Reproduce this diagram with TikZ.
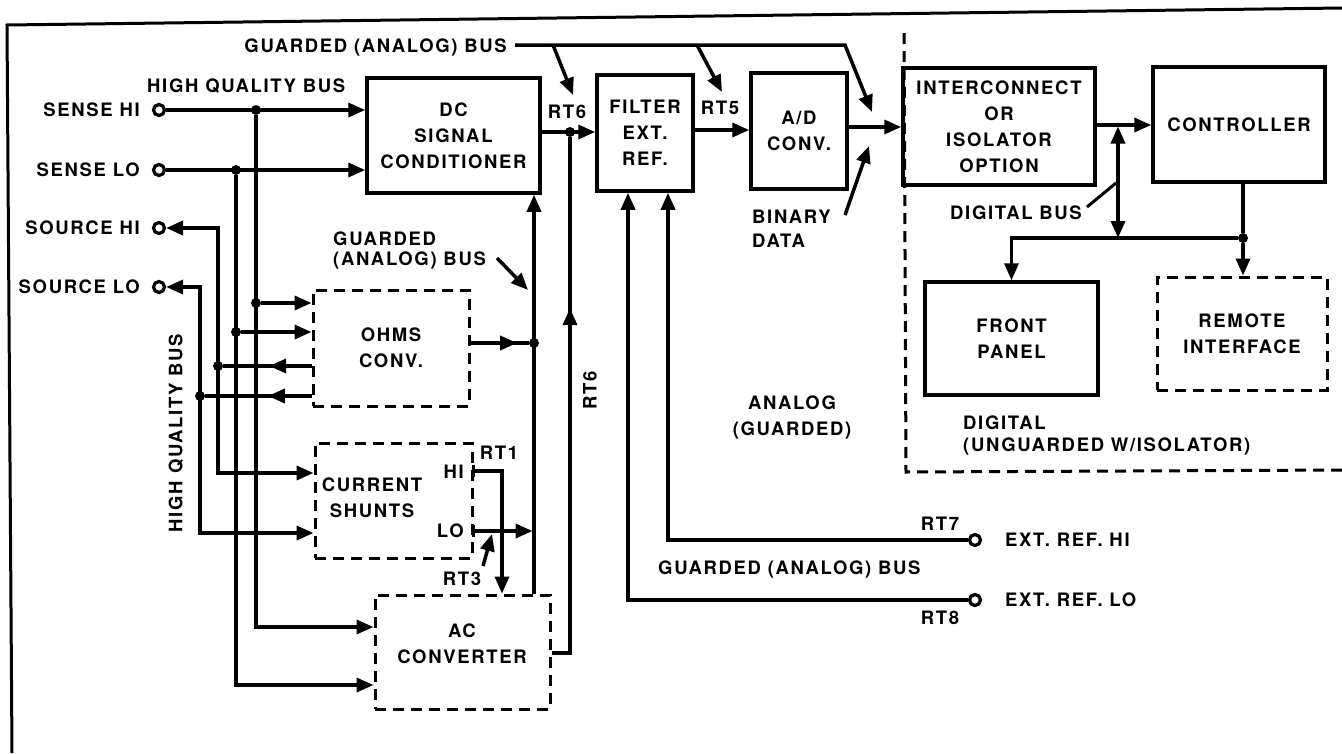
\documentclass[tikz,border=0pt]{standalone}
\usepackage{fontspec}
\setsansfont{TeX Gyre Heros}[LetterSpace=9]
\usetikzlibrary{arrows.meta,positioning,decorations.markings}

\newcommand{\labfont}{\sffamily\bfseries\fontsize{18.5}{26}\selectfont}

\tikzset{
  wire/.style={line width=3.5pt},
  arr/.style={wire, -{Triangle[length=17pt,width=14pt]}},
  dbl/.style={wire, {Triangle[length=17pt,width=14pt]}-{Triangle[length=17pt,width=14pt]}},
  midarr/.style={wire, postaction={decorate},
    decoration={markings, mark=at position #1 with {\arrow{Triangle[length=17pt,width=14pt]}}}},
  midarr/.default=0.5,
  blk/.style={draw, line width=3.5pt, inner sep=0pt, align=center, font=\labfont},
  dblk/.style={blk, line width=3pt, dash pattern=on 11pt off 7pt},
  dot/.style={circle, fill, inner sep=0pt, minimum size=10pt},
  term/.style={circle, draw, line width=3.2pt, fill=white, inner sep=0pt, minimum size=11pt},
  lbl/.style={font=\labfont, inner sep=0pt, align=center},
}

\begin{document}
\begin{tikzpicture}[x=1pt, y=-1pt]
\useasboundingbox (0,0) rectangle (1342,753);

% frame and digital area
\draw[line width=3pt] (12,753) -- (7,25) -- (1342,8);
\draw[line width=3pt, dash pattern=on 11pt off 7pt] (904,33) -- (906,472) -- (1342,470);

% input terminals
\node[term] (shi) at (159,110) {};
\node[term] (slo) at (159,170) {};
\node[term] (srhi) at (159,228) {};
\node[term] (srlo) at (159,287) {};
\node[lbl, left=12pt of shi] (lshi) {SENSE HI};
\node[lbl, left=12pt of slo] (lslo) {SENSE LO};
\node[lbl, left=12pt of srhi] (lsrhi) {SOURCE HI};
\node[lbl, left=12pt of srlo] (lsrlo) {SOURCE LO};

% blocks
\node[blk, minimum width=173pt, minimum height=115pt] (dc) at (453.5,135.5) {DC\\SIGNAL\\CONDITIONER};
\node[blk, minimum width=96pt, minimum height=116pt] (filt) at (645,133) {FILTER\\EXT.\\REF.};
\node[blk, minimum width=96pt, minimum height=116pt] (adc) at (799,131) {A/D\\CONV.};
\node[blk, minimum width=192pt, minimum height=117pt] (icon) at (999,126.5) {INTERCONNECT\\OR\\ISOLATOR\\OPTION};
\node[blk, minimum width=172pt, minimum height=115pt] (ctrl) at (1239,124.5) {CONTROLLER};
\node[blk, minimum width=173pt, minimum height=113pt] (fp) at (1011.5,338.5) {FRONT\\PANEL};
\node[dblk, minimum width=170pt, minimum height=113pt] (ri) at (1242,333.5) {REMOTE\\INTERFACE};
\node[dblk, minimum width=156pt, minimum height=116pt] (ohms) at (391,348) {OHMS\\CONV.};
\node[dblk, minimum width=157pt, minimum height=115pt] (shunt) at (393.5,500.5) {};
\node[lbl] (tshunt) at (372,498) {CURRENT\\SHUNTS};
\node[dblk, minimum width=175pt, minimum height=114pt] (ac) at (462.5,652) {};
\node[lbl] (tac) at (462,644) {AC\\CONVERTER};

% junctions
\node[dot] (dSH) at (256,110) {};
\node[dot] (dSL) at (236,170) {};
\node[dot] (dO1) at (256,303) {};
\node[dot] (dO2) at (236,332) {};
\node[dot] (dO3) at (218,366) {};
\node[dot] (dO4) at (200,396) {};
\node[dot] (dOG) at (534,343) {};
\node[dot] (dRT6) at (570,132) {};
\node[dot] (dCT) at (1243,238) {};

\coordinate (kSH) at (256,627);
\coordinate (kSL) at (236,685);
\coordinate (kRH) at (218,473);
\coordinate (kRL) at (200,533);

% high quality bus
\draw[arr] (shi) -- (dc.west |- shi);
\draw[arr] (slo) -- (dc.west |- slo);
\draw[arr] (dSH) -- (kSH) -- (kSH -| ac.west);
\draw[arr] (dSL) -- (kSL) -- (kSL -| ac.west);
\draw[dbl] (srhi) -| (kRH) -- (kRH -| shunt.west);
\draw[dbl] (srlo) -| (kRL) -- (kRL -| shunt.west);
\draw[arr] (dO1) -- (dO1 -| ohms.west);
\draw[arr] (dO2) -- (dO2 -| ohms.west);
\draw[midarr=0.48] (dO3 -| ohms.west) -- (dO3);
\draw[midarr=0.41] (dO4 -| ohms.west) -- (dO4);

% guarded bus
\draw[midarr=0.8] (dOG -| ohms.east) -- (dOG);
\draw[arr] (ac.north -| dOG) -- (dc.south -| dOG);
\coordinate (pHI) at (shunt.east |- 0,471);
\coordinate (pLO) at (shunt.east |- 0,531);
\draw[wire] ([yshift=6pt]pHI) -- ([yshift=-6pt]pHI);
\draw[wire] ([yshift=6pt]pLO) -- ([yshift=-6pt]pLO);
\draw[arr] (pHI) -| (ac.north -| 502,0);
\draw[arr, shorten >=1.5pt] (pLO) -- (pLO -| dOG);
\draw[midarr=0.68] (ac.east |- 0,653) -| (dRT6);

% signal path
\draw[arr] (dc.east |- dRT6) -- (filt.west |- dRT6);
\draw[arr] (filt.east |- 0,130) -- (adc.west |- 0,130);
\draw[arr] (adc.east |- 0,127) -- (icon.west |- 0,127);
\draw[arr] (icon.east |- 0,125) -- (ctrl.west |- 0,125);

% digital bus
\coordinate (kDT) at (1118,125);
\coordinate (kDB) at (1118,238);
\draw[dbl, shorten <=1.5pt] (kDT) -- (kDB);
\draw[wire] (ctrl.south -| dCT) -- (dCT);
\draw[arr] (dCT) -- (dCT |- ri.north);
\draw[arr] (dCT) -| (fp.north);

% external reference
\node[term] (e7) at (975,540) {};
\node[term] (e8) at (975,600) {};
\draw[arr] (e7) -| (filt.south -| 668,0);
\draw[arr] (e8) -| (filt.south -| 628,0);

% top guarded bus
\node[lbl, anchor=east] (lgb) at (507,47) {GUARDED (ANALOG) BUS};
\coordinate (g0) at (515,45);
\coordinate (g1) at (845,45);
\coordinate (gRT6) at (553,45);
\coordinate (gRT5) at (697,45);
\coordinate (tRT6) at (573,95);
\coordinate (tRT5) at (722,92);
\coordinate (tAD) at (872,112);
\draw[arr] (g0) -- (g1) -- (tAD);
\draw[arr] (gRT6) -- (tRT6);
\draw[arr] (gRT5) -- (tRT5);

% labels
\node[lbl, anchor=west] (lhq) at (147,86) {HIGH QUALITY BUS};
\node[lbl, rotate=90] (lhq2) at (176,433) {HIGH QUALITY BUS};
\node[lbl, align=left, anchor=west] (lgb2) at (333,250) {GUARDED\\[-6pt](ANALOG) BUS};
\coordinate (aGB0) at (497,258);
\coordinate (aGB1) at (528,290);
\draw[arr] (aGB0) -- (aGB1);
\node[lbl, align=left, anchor=west] (lbd) at (752,229) {BINARY\\[-2pt]DATA};
\coordinate (aBD0) at (845,215);
\coordinate (aBD1) at (869,146);
\draw[arr] (aBD0) -- (aBD1);
\node[lbl] (lan) at (792,417) {ANALOG\\(GUARDED)};
\node[lbl, align=left, anchor=west] (ldig) at (963,435) {DIGITAL\\[-4pt](UNGUARDED W/ISOLATOR)};
\node[lbl, anchor=east] (ldb) at (1082,213) {DIGITAL BUS};
\coordinate (aDB0) at (1087,207);
\coordinate (aDB1) at (1116,183);
\draw[wire, line width=3pt] (aDB0) -- (aDB1);
\node[lbl] (lrt6a) at (567,112) {RT6};
\node[lbl] (lrt5) at (720,108) {RT5};
\node[lbl, rotate=90] (lrt6b) at (590,390) {RT6};
\node[lbl] (lrt1) at (499,453) {RT1};
\node[lbl, anchor=east] (lhi) at (464,472) {HI};
\node[lbl, anchor=east] (llo) at (464,531) {LO};
\node[lbl] (lrt3) at (462,579) {RT3};
\coordinate (aRT30) at (483,566);
\coordinate (aRT31) at (492,534);
\draw[arr] (aRT30) -- (aRT31);
\node[lbl] (lrt7) at (940,524) {RT7};
\node[lbl] (lrt8) at (940,618) {RT8};
\node[lbl, anchor=west] (le7) at (1005,540) {EXT. REF. HI};
\node[lbl, anchor=west] (le8) at (1005,600) {EXT. REF. LO};
\node[lbl, anchor=west] (lgb3) at (658,569) {GUARDED (ANALOG) BUS};

\end{tikzpicture}
\end{document}
